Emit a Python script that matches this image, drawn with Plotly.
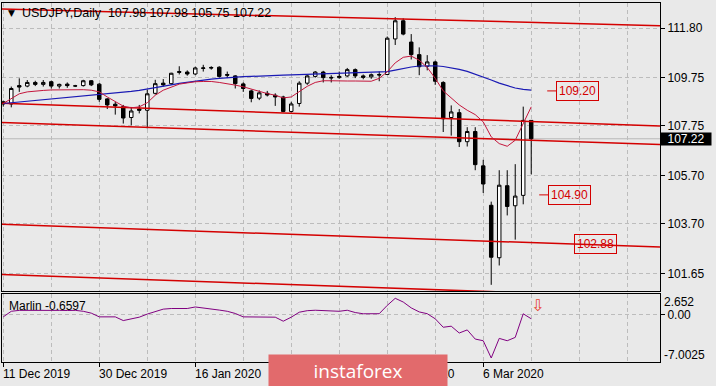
import plotly.graph_objects as go

# ---------------- data ----------------
opens = [108.75, 108.66, 109.42, 109.40, 109.55, 109.47, 109.58, 109.40, 109.48, 109.40,
         109.42, 109.62, 109.48, 108.87, 108.65, 108.55, 108.10, 108.45, 108.40, 109.10,
         109.52, 109.50, 110.00, 109.98, 109.90, 110.13, 110.17, 110.18, 109.88, 109.82,
         109.49, 109.20, 108.90, 109.10, 109.02, 108.95, 108.35, 108.68, 109.52, 109.80,
         109.98, 109.76, 109.75, 109.82, 110.08, 109.82, 109.78, 109.88, 109.88, 111.35,
         112.10, 111.22, 110.70, 110.22, 110.40, 109.55, 108.10, 108.30, 107.10, 107.52,
         106.10, 104.47, 102.30, 105.28, 104.45, 104.88, 107.98]
highs = [108.80, 109.38, 109.72, 109.65, 109.62, 109.65, 109.62, 109.50, 109.55, 109.45,
         109.66, 109.65, 109.52, 108.90, 108.75, 108.62, 108.50, 108.62, 109.25, 109.66,
         109.69, 109.95, 110.22, 110.05, 110.20, 110.28, 110.22, 110.22, 110.00, 109.85,
         109.55, 109.25, 109.22, 109.20, 109.10, 109.00, 108.75, 109.60, 109.85, 110.02,
         110.03, 109.85, 110.00, 110.15, 110.13, 109.88, 109.92, 110.00, 111.45, 112.25,
         112.20, 111.55, 111.00, 110.68, 110.45, 109.60, 108.60, 108.45, 107.70, 107.70,
         106.35, 104.62, 105.92, 105.92, 106.17, 108.55, 107.98]
lows = [108.55, 108.52, 109.16, 109.35, 109.40, 109.38, 109.30, 109.30, 109.33, 109.36,
        109.38, 109.40, 108.75, 108.45, 108.22, 107.85, 107.78, 108.27, 107.65, 109.05,
        109.38, 109.45, 109.88, 109.83, 109.85, 110.00, 110.08, 109.75, 109.73, 109.30,
        109.16, 108.73, 108.82, 108.97, 108.58, 108.32, 108.30, 108.55, 109.45, 109.75,
        109.55, 109.55, 109.70, 109.78, 109.73, 109.68, 109.70, 109.60, 109.86, 111.10,
        111.50, 110.50, 109.85, 110.05, 109.45, 107.50, 107.35, 106.88, 106.90, 105.92,
        104.98, 101.18, 101.98, 104.05, 103.05, 104.51, 105.75]
closes = [108.66, 109.30, 109.36, 109.55, 109.47, 109.55, 109.40, 109.47, 109.42, 109.41,
          109.62, 109.45, 108.85, 108.62, 108.58, 108.08, 108.37, 108.40, 109.08, 109.50,
          109.45, 109.93, 109.97, 109.90, 110.15, 110.15, 110.15, 109.80, 109.85, 109.50,
          109.30, 108.89, 109.12, 109.03, 108.95, 108.35, 108.66, 109.52, 109.82, 109.98,
          109.75, 109.74, 109.80, 110.08, 109.82, 109.76, 109.87, 109.86, 111.38, 112.10,
          111.55, 110.70, 110.20, 110.40, 109.60, 108.05, 108.33, 107.10, 107.52, 106.15,
          105.35, 102.32, 105.30, 104.42, 104.85, 107.98, 107.22]
ma_blue = [108.68, 108.71, 108.74, 108.77, 108.80, 108.83, 108.86, 108.89, 108.92, 108.95,
           108.98, 109.01, 109.04, 109.07, 109.10, 109.14, 109.18, 109.22, 109.27, 109.33,
           109.39, 109.45, 109.51, 109.56, 109.61, 109.65, 109.69, 109.72, 109.75, 109.77,
           109.79, 109.80, 109.82, 109.83, 109.84, 109.85, 109.86, 109.87, 109.88, 109.89,
           109.90, 109.91, 109.92, 109.93, 109.94, 109.95, 109.96, 109.97, 110.00, 110.06,
           110.13, 110.19, 110.23, 110.25, 110.24, 110.21, 110.16, 110.09, 110.01, 109.90,
           109.78, 109.65, 109.52, 109.41, 109.32, 109.26, 109.23]
ma_red = [108.68, 108.89, 109.08, 109.16, 109.20, 109.22, 109.24, 109.25, 109.26, 109.26,
          109.25, 109.23, 109.16, 108.95, 108.75, 108.57, 108.50, 108.54, 108.71, 109.02,
          109.23, 109.37, 109.48, 109.53, 109.58, 109.59, 109.59, 109.55, 109.51, 109.44,
          109.37, 109.27, 109.16, 109.09, 109.02, 108.91, 108.95, 109.16, 109.39, 109.55,
          109.62, 109.62, 109.60, 109.61, 109.61, 109.60, 109.60, 109.72, 109.99, 110.36,
          110.59, 110.64, 110.47, 110.17, 109.72, 109.20, 108.90, 108.62, 108.40, 108.22,
          107.92, 107.30, 107.02, 106.91, 107.16, 107.85, 108.54]
marlin = [-0.35, 0.55, 0.70, 0.72, 0.70, 0.65, 0.72, 0.70, 0.68, 0.70,
          0.55, 0.25, -0.35, -0.40, -0.35, -0.95, -0.70, -0.40, 0.10, 0.55,
          0.90, 1.00, 0.98, 1.00, 1.25, 1.10, 0.98, 0.75, 0.55, 0.20,
          -0.35, -0.38, -0.30, -0.35, -0.40, -1.05, -0.40, 0.40, 0.65, 0.72,
          0.68, 0.62, 0.55, 0.72, 0.35, 0.15, 0.16, 0.16, 1.50, 2.652,
          2.05, 1.10, 0.45, 0.16, -0.66, -2.03, -1.86, -2.96, -2.46, -3.94,
          -4.21, -7.0025, -3.83, -4.21, -3.67, 0.15, -0.6597]

price_ticks = [111.80, 109.75, 107.75, 105.70, 103.70, 101.65]
date_labels = ["11 Dec 2019", "30 Dec 2019", "16 Jan 2020", "4 Feb 2020", "21 Feb 2020", "6 Mar 2020"]
date_bar_index = [0, 12, 24, 36, 48, 60]

# analyst channel lines: price at left edge / right edge of the window
trend_left = [112.59, 108.69, 107.89, 103.68, 101.61]
trend_right = [111.90, 107.75, 106.98, 102.74, 100.65]
level_values = [109.20, 104.90, 102.88]
marlin_max, marlin_zero, marlin_min = 2.652, 0.00, -7.0025
marlin_now = -0.6597
ohlc_title = [107.98, 107.98, 105.75, 107.22]

# ---------------- figure ----------------
idx = list(range(len(closes)))
X_MIN, X_MAX = -0.16, 82.1
BG = "#e9e9e9"
GRID = "#bcbcbc"
FONT = "Liberation Sans"
RED = "#d40000"

fig = go.Figure()

for a, b in zip(trend_left, trend_right):
    fig.add_trace(go.Scatter(x=[X_MIN, X_MAX], y=[a, b], mode="lines",
                             line=dict(color=RED, width=1.5), hoverinfo="skip",
                             showlegend=False, xaxis="x", yaxis="y"))

fig.add_trace(go.Scatter(x=idx, y=ma_blue, mode="lines", line=dict(color="#1a1ab4", width=1.2),
                         hoverinfo="skip", showlegend=False, xaxis="x", yaxis="y"))
fig.add_trace(go.Scatter(x=idx, y=ma_red, mode="lines", line=dict(color="#c4163c", width=1),
                         hoverinfo="skip", showlegend=False, xaxis="x", yaxis="y"))

fig.add_trace(go.Candlestick(
    x=idx, open=opens, high=highs, low=lows, close=closes,
    increasing=dict(line=dict(color="black", width=1), fillcolor="white"),
    decreasing=dict(line=dict(color="black", width=1), fillcolor="black"),
    whiskerwidth=0, showlegend=False, hoverinfo="skip", xaxis="x", yaxis="y"))

fig.add_trace(go.Scatter(x=idx, y=marlin, mode="lines", line=dict(color="#800080", width=1),
                         hoverinfo="skip", showlegend=False, xaxis="x2", yaxis="y2"))

# current price line
fig.add_shape(type="line", xref="x domain", yref="y", x0=0, x1=1, y0=closes[-1], y1=closes[-1],
              line=dict(color="#b8b8b8", width=1), layer="below")

grid_common = dict(showgrid=True, gridcolor=GRID, griddash="4px,3px", gridwidth=1,
                   zeroline=False, showline=True, mirror=True, linecolor="black", linewidth=1)

main_bottom = 0.1964
lower_top = 0.1886
fig.update_layout(
    width=716, height=386, autosize=False,
    margin=dict(l=2, r=56, t=3, b=24),
    paper_bgcolor=BG, plot_bgcolor=BG,
    boxgap=0.38,
    xaxis=dict(domain=[0, 1], anchor="y", range=[X_MIN, X_MAX], tickvals=date_bar_index,
               ticks="", showticklabels=False, rangeslider=dict(visible=False),
               minor=dict(tick0=0, dtick=6, showgrid=True, gridcolor=GRID, griddash="4px,3px"),
               **grid_common),
    xaxis2=dict(domain=[0, 1], anchor="y2", range=[X_MIN, X_MAX], matches="x",
                tickvals=date_bar_index, ticks="outside", ticklen=4, tickcolor="black",
                showticklabels=False,
                minor=dict(tick0=0, dtick=6, showgrid=True, gridcolor=GRID, griddash="4px,3px"),
                **grid_common),
    yaxis=dict(domain=[main_bottom, 1], anchor="x", side="right", range=[100.904, 112.836],
               tickvals=price_ticks, ticktext=[f"{v:.2f}" for v in price_ticks],
               ticks="outside", ticklen=4, tickcolor="black",
               tickfont=dict(family=FONT, size=12, color="black"), **grid_common),
    yaxis2=dict(domain=[0, lower_top], anchor="x2", side="right", range=[-7.65, 3.30],
                tickvals=[marlin_zero], ticktext=[f"{marlin_zero:.2f}"],
                ticks="outside", ticklen=4, tickcolor="black",
                tickfont=dict(family=FONT, size=12, color="black"), **grid_common),
)

ann = []
# title
ann.append(dict(xref="paper", yref="paper", x=0.0137, y=0.9712, text="▼", showarrow=False,
                xanchor="center", yanchor="middle", font=dict(family="DejaVu Sans", size=9, color="black")))
ann.append(dict(xref="paper", yref="paper", x=0.0274, y=0.9712,
                text="USDJPY,Daily\u00a0\u00a0" + " ".join(f"{v:.2f}" for v in ohlc_title),
                showarrow=False, xanchor="left", yanchor="middle",
                font=dict(family=FONT, size=12.5, color="black")))
# lower pane label
ann.append(dict(xref="paper", yref="paper", x=0.0076, y=0.156, text=f"Marlin {marlin_now:.4f}",
                showarrow=False, xanchor="left", yanchor="middle",
                font=dict(family=FONT, size=12, color="black")))
# lower pane extreme labels
ann.append(dict(xref="paper", yref="y2", x=1.0, xshift=2, y=marlin_max, yshift=-4, text=f"{marlin_max}",
                showarrow=False, xanchor="left", yanchor="middle",
                font=dict(family=FONT, size=12, color="black")))
ann.append(dict(xref="paper", yref="y2", x=1.0, xshift=2, y=marlin_min, yshift=3, text=f"{marlin_min}",
                showarrow=False, xanchor="left", yanchor="middle",
                font=dict(family=FONT, size=12, color="black")))
# signal arrow
ann.append(dict(xref="x2", yref="y2", x=len(closes) - 0.2, y=1.5, text="⇩", showarrow=False,
                xanchor="center", yanchor="middle", font=dict(family="DejaVu Sans", size=16, color="#e8432f")))
# level labels
label_x = [71.8, 70.8, 74.0]
for v, lx in zip(level_values, label_x):
    ann.append(dict(xref="x", yref="y", x=lx, y=v, text=f"{v:.2f}", showarrow=False,
                    xanchor="center", yanchor="middle", bordercolor=RED, borderwidth=1,
                    borderpad=2, font=dict(family=FONT, size=12, color=RED)))
for v, lx in zip(level_values[:2], label_x[:2]):
    fig.add_shape(type="line", xref="x", yref="y", x0=lx - 3.8, x1=lx - 2.6, y0=v, y1=v,
                  line=dict(color=RED, width=1))
# current price tag
ann.append(dict(xref="paper", yref="y", x=1.0, y=closes[-1], text=f"{closes[-1]:.2f}",
                showarrow=False, xanchor="left", yanchor="middle", bgcolor="black",
                width=50, height=12, borderpad=0, align="center",
                font=dict(family=FONT, size=12, color="white")))
# date labels
for i, lab in zip(date_bar_index, date_labels):
    ann.append(dict(xref="x2", yref="paper", x=i, y=-0.0334, text=lab, showarrow=False,
                    xanchor="left", yanchor="middle", xshift=-2,
                    font=dict(family=FONT, size=12, color="black")))
# watermark
ann.append(dict(xref="paper", yref="paper", x=0.5403, y=-0.0237, text="instaforex",
                showarrow=False, xanchor="center", yanchor="middle", bgcolor="#e26a6c",
                width=178, height=31, borderpad=0, align="center",
                font=dict(family="Open Sans", size=19, color="white")))
fig.update_layout(annotations=ann)

fig.write_html("out.html", config={"displayModeBar": False},
               post_script="document.body.style.margin='0';document.body.style.padding='0';"
                           "document.body.style.background='" + BG + "';")
